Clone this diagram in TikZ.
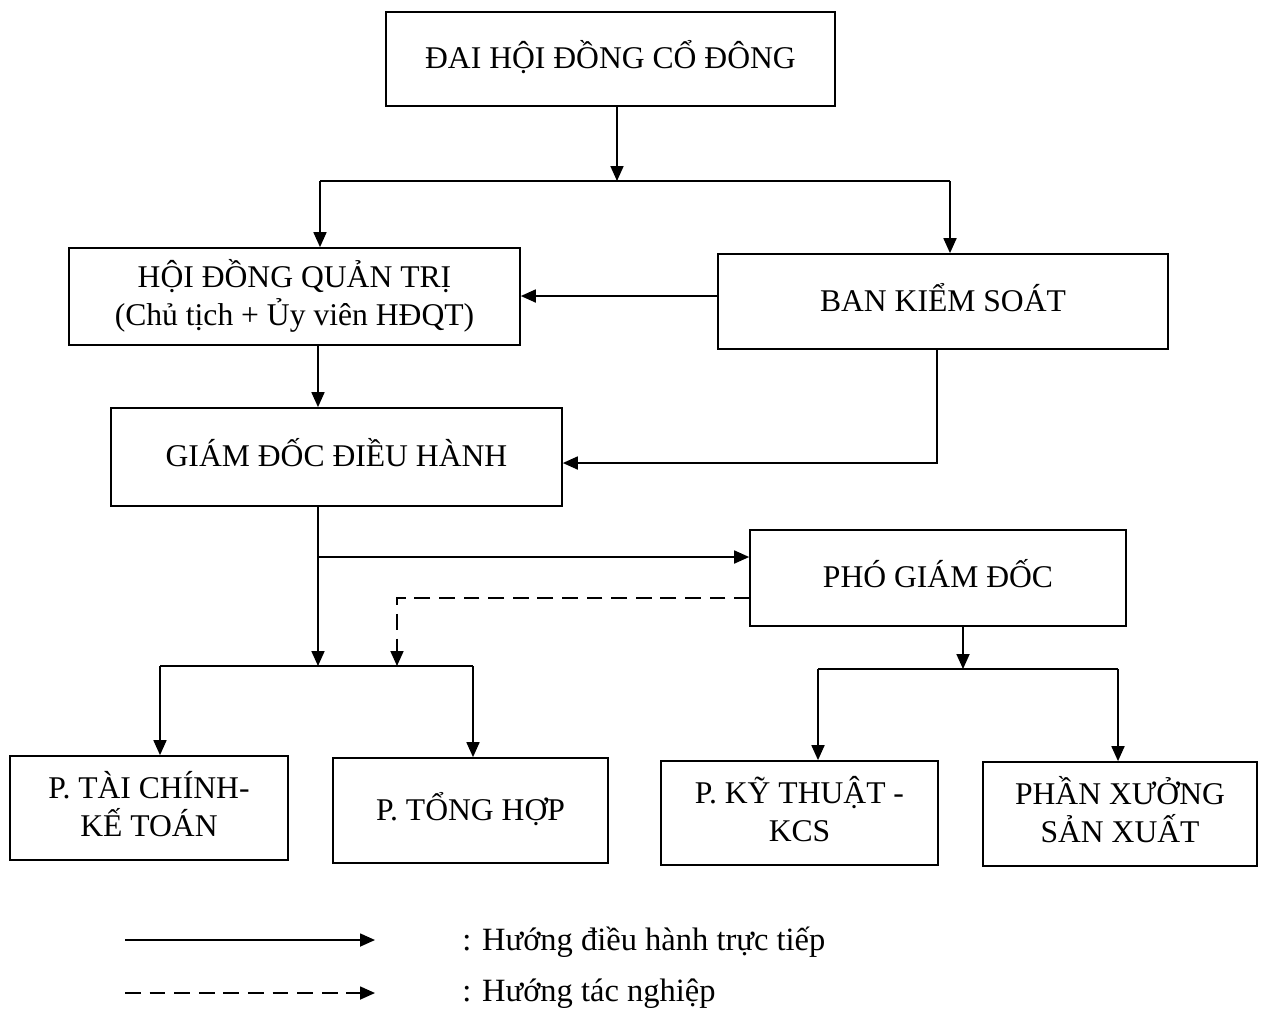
\documentclass[tikz,border=0pt]{standalone}
\usepackage{fontspec}
\setmainfont{Liberation Serif}
\usetikzlibrary{arrows.meta}
\begin{document}
\begin{tikzpicture}[x=0.02cm,y=-0.02cm,
  box/.style={draw, line width=1pt, align=center, inner sep=2pt, text depth=5pt,
    font=\fontsize{18}{21.5}\selectfont},
  conn/.style={line width=1pt},
  arr/.style={conn, -{Triangle[length=0.3cm,width=0.26cm]}},
  darr/.style={arr, dash pattern=on 9pt off 5pt},
  lbl/.style={anchor=west, inner sep=0pt, font=\fontsize{18.5}{22}\selectfont}]
\useasboundingbox (0,0) rectangle (1264,1012);
% boxes
\node[box, minimum width=8.98cm, minimum height=1.88cm] (dh) at (610.5,59) {ĐAI HỘI ĐỒNG CỔ ĐÔNG};
\node[box, minimum width=9.02cm, minimum height=1.94cm] (hd) at (294.5,296.5) {HỘI ĐỒNG QUẢN TRỊ\\(Chủ tịch + Ủy viên HĐQT)};
\node[box, minimum width=9.0cm, minimum height=1.9cm] (bks) at (943,301.5) {BAN KIỂM SOÁT};
\node[box, minimum width=9.02cm, minimum height=1.96cm] (gd) at (336.5,457) {GIÁM ĐỐC ĐIỀU HÀNH};
\node[box, minimum width=7.52cm, minimum height=1.92cm] (pgd) at (938,578) {PHÓ GIÁM ĐỐC};
\node[box, minimum width=5.56cm, minimum height=2.08cm] (tc) at (149,808) {P. TÀI CHÍNH-\\KẾ TOÁN};
\node[box, minimum width=5.5cm, minimum height=2.1cm] (th) at (470.5,810.5) {P. TỔNG HỢP};
\node[box, minimum width=5.54cm, minimum height=2.08cm] (kt) at (799.5,813) {P. KỸ THUẬT -\\KCS};
\node[box, minimum width=5.48cm, minimum height=2.08cm] (px) at (1120,814) {PHẦN XƯỞNG\\SẢN XUẤT};
% junction coordinates
\coordinate (j1) at (617,181);
\coordinate (j1L) at (320,181);
\coordinate (j1R) at (950,181);
\coordinate (bksA) at (718,296);
\coordinate (hdB) at (318,345);
\coordinate (bksB) at (937,349);
\coordinate (bksC) at (937,463);
\coordinate (gdB) at (318,506);
\coordinate (gdC) at (318,557);
\coordinate (j2) at (318,666);
\coordinate (j2L) at (160,666);
\coordinate (j2R) at (473,666);
\coordinate (dA) at (750,598);
\coordinate (dB) at (397,598);
\coordinate (dC) at (397,666);
\coordinate (pgdB) at (963,626);
\coordinate (j3) at (963,669);
\coordinate (j3L) at (818,669);
\coordinate (j3R) at (1118,669);
% connectors
\draw[arr] (dh.south -| j1) -- (j1);
\draw[conn] (j1L) -- (j1R);
\draw[arr] (j1L) -- (j1L |- hd.north);
\draw[arr] (j1R) -- (j1R |- bks.north);
\draw[arr] (bksA) -- (bksA -| hd.east);
\draw[arr] (hdB) -- (hdB |- gd.north);
\draw[arr] (bksB) -- (bksC) -- (bksC -| gd.east);
\draw[arr] (gdB) -- (j2);
\draw[arr] (gdC) -- (gdC -| pgd.west);
\draw[darr] (dA) -- (dB) -- (dC);
\draw[conn] (j2L) -- (j2R);
\draw[arr] (j2L) -- (j2L |- tc.north);
\draw[arr] (j2R) -- (j2R |- th.north);
\draw[arr] (pgdB) -- (j3);
\draw[conn] (j3L) -- (j3R);
\draw[arr] (j3L) -- (j3L |- kt.north);
\draw[arr] (j3R) -- (j3R |- px.north);
% legend
\coordinate (l1a) at (125,940);
\coordinate (l1b) at (375,940);
\coordinate (l2a) at (125,993);
\coordinate (l2b) at (375,993);
\draw[arr] (l1a) -- (l1b);
\draw[darr] (l2a) -- (l2b);
\node[lbl] (t1) at (462,942) {: Hướng điều hành trực tiếp};
\node[lbl] (t2) at (462,994) {: Hướng tác nghiệp};
\end{tikzpicture}
\end{document}
